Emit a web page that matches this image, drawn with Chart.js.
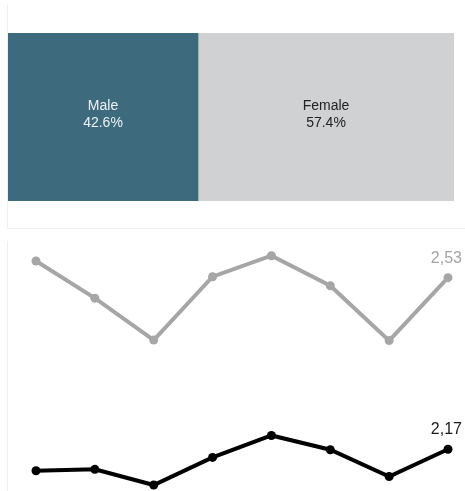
<!DOCTYPE html>
<html>
<head>
<meta charset="utf-8">
<script src="https://cdn.jsdelivr.net/npm/chart.js@4/dist/chart.umd.min.js"></script>
<style>
  html, body { margin: 0; padding: 0; background: #fff; width: 465px; height: 491px; overflow: hidden; position: relative; font-family: "Liberation Sans", Arial, sans-serif; }
  .card { position: absolute; box-sizing: border-box; border: 1px solid #efefef; border-top: none; border-right: none; background: #fff; }
  #c1 { left: 7px; top: 5px; width: 470px; height: 224px; }
  #c2 { left: 7px; top: 241px; width: 470px; height: 260px; }
  #barWrap { position: absolute; left: 8px; top: 33px; width: 446px; height: 168px; }
  #lineWrap { position: absolute; left: 0px; top: 240px; width: 465px; height: 251px; }
</style>
</head>
<body>
<div class="card" id="c1"></div>
<div class="card" id="c2"></div>
<div id="barWrap"><canvas id="bar" width="446" height="168"></canvas></div>
<div id="lineWrap"><canvas id="line" width="465" height="251"></canvas></div>
<script>
// ---- Data ----
const genderLabels = ["Male", "Female"];
const genderShares = [42.6, 57.4];
const genderColors = ["#3d6a7c", "#d0d1d3"];
const genderTextColors = ["#eef2f6", "#222222"];

const periods = ["1", "2", "3", "4", "5", "6", "7", "8"];
const seriesGray = [2.565, 2.487, 2.399, 2.532, 2.576, 2.513, 2.398, 2.53];
const seriesBlack = [2.125, 2.128, 2.095, 2.153, 2.199, 2.169, 2.113, 2.17];

const FONT = "'Liberation Sans', Arial, sans-serif";

// ---- Stacked 100% bar ----
const barLabelPlugin = {
  id: 'barLabels',
  afterDatasetsDraw(chart) {
    const ctx = chart.ctx;
    ctx.save();
    ctx.font = "14px " + FONT;
    ctx.textAlign = 'center';
    ctx.textBaseline = 'middle';
    chart.data.datasets.forEach((ds, i) => {
      const el = chart.getDatasetMeta(i).data[0];
      const cx = (el.x + el.base) / 2;
      ctx.fillStyle = genderTextColors[i];
      ctx.fillText(genderLabels[i], cx, el.y - 11);
      ctx.fillText(ds.data[0].toFixed(1) + "%", cx, el.y + 6);
    });
    ctx.restore();
  }
};

new Chart(document.getElementById('bar'), {
  type: 'bar',
  data: {
    labels: ["Gender"],
    datasets: genderLabels.map((g, i) => ({
      label: g,
      data: [genderShares[i]],
      backgroundColor: genderColors[i],
      borderWidth: 0,
      barPercentage: 1,
      categoryPercentage: 1
    }))
  },
  options: {
    indexAxis: 'y',
    responsive: false,
    animation: false,
    layout: { padding: 0, autoPadding: false },
    plugins: { legend: { display: false }, tooltip: { enabled: false } },
    scales: {
      x: { stacked: true, min: 0, max: 100, display: false },
      y: { stacked: true, display: false }
    }
  },
  plugins: [barLabelPlugin]
});

// ---- Lines ----
const endLabelPlugin = {
  id: 'endLabels',
  afterDatasetsDraw(chart) {
    const ctx = chart.ctx;
    ctx.save();
    ctx.font = "16px " + FONT;
    ctx.textAlign = 'right';
    ctx.textBaseline = 'alphabetic';
    chart.data.datasets.forEach((ds, i) => {
      const pts = chart.getDatasetMeta(i).data;
      const p = pts[pts.length - 1];
      const v = ds.data[ds.data.length - 1];
      ctx.fillStyle = ds.labelColor;
      ctx.fillText(v.toFixed(2).replace('.', ','), p.x + 14, p.y - 15);
    });
    ctx.restore();
  }
};

new Chart(document.getElementById('line'), {
  type: 'line',
  data: {
    labels: periods,
    datasets: [
      {
        data: seriesGray,
        borderColor: "#a6a6a6",
        backgroundColor: "#a6a6a6",
        borderWidth: 4,
        pointRadius: 4.5,
        pointBorderWidth: 0,
        tension: 0,
        labelColor: "#a3a3a3",
        clip: false
      },
      {
        data: seriesBlack,
        borderColor: "#000000",
        backgroundColor: "#000000",
        borderWidth: 4,
        pointRadius: 4.5,
        pointBorderWidth: 0,
        tension: 0,
        labelColor: "#1a1a1a",
        clip: false
      }
    ]
  },
  options: {
    responsive: false,
    animation: false,
    layout: { padding: { left: 36, right: 17, top: 0, bottom: 0 }, autoPadding: false },
    plugins: { legend: { display: false }, tooltip: { enabled: false } },
    scales: {
      x: { display: false, offset: false },
      y: { display: false, min: 2.0825, max: 2.609 }
    }
  },
  plugins: [endLabelPlugin]
});
</script>
</body>
</html>
